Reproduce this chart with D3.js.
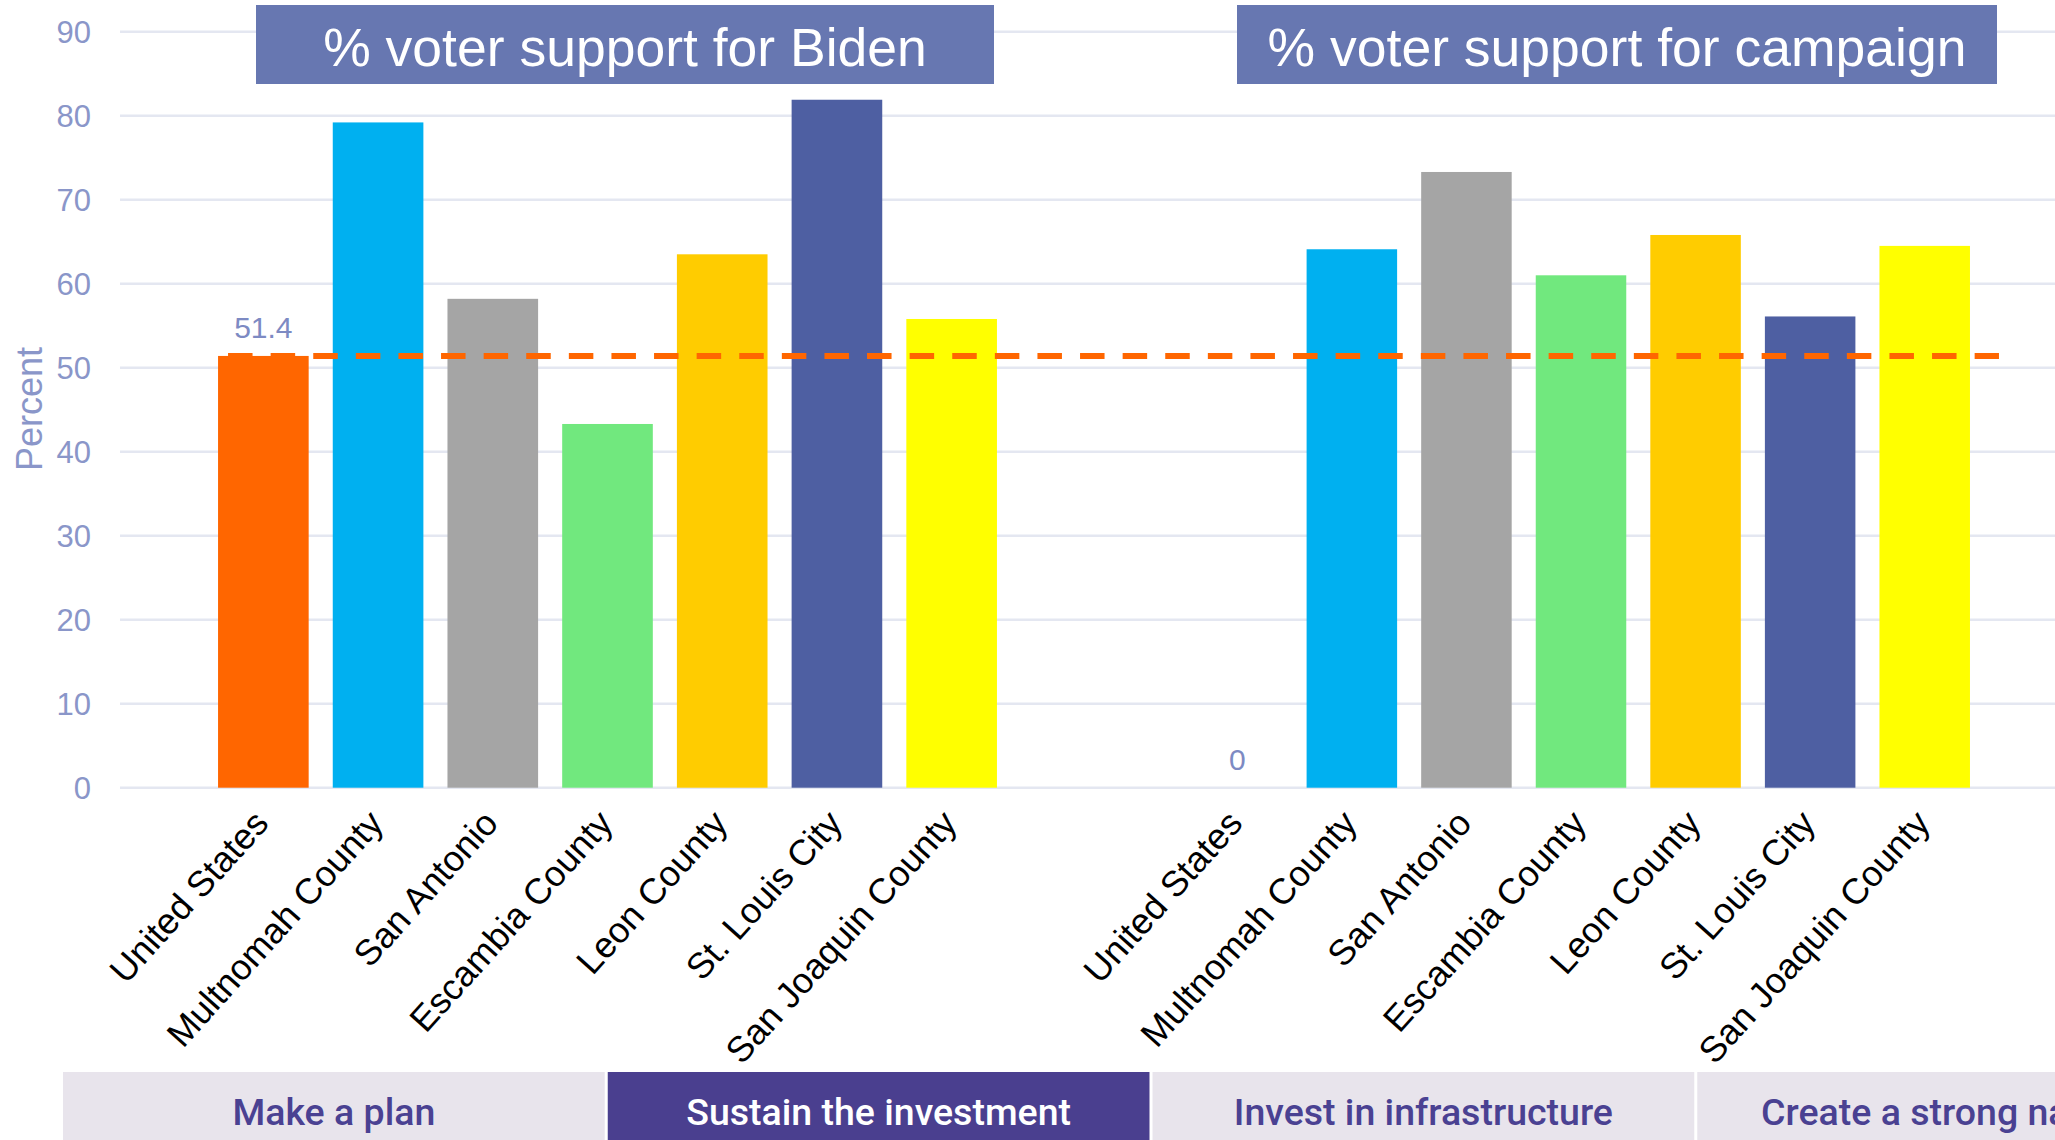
<!DOCTYPE html>
<html>
<head>
<meta charset="utf-8">
<script src="https://cdn.jsdelivr.net/npm/d3@7"></script>
<style>
  html, body { margin: 0; padding: 0; background: #ffffff; overflow: hidden; }
  svg { display: block; }
</style>
</head>
<body>
<svg id="chart" width="2055" height="1140"></svg>
<script>
// ---------------- DATA ----------------
const categories = ["United States", "Multnomah County", "San Antonio", "Escambia County", "Leon County", "St. Louis City", "San Joaquin County"];
const bidenValues = [51.4, 79.2, 58.2, 43.3, 63.5, 81.9, 55.8];
const campaignValues = [0, 64.1, 73.3, 61.0, 65.8, 56.1, 64.5];
const barColors = ["#FF6600", "#00B0F0", "#A5A5A5", "#71E87E", "#FFCC00", "#4E5FA2", "#FFFF00"];
const yTicks = [0, 10, 20, 30, 40, 50, 60, 70, 80, 90];
const referenceValue = 51.4;
const panelTitles = ["% voter support for Biden", "% voter support for campaign"];
const yAxisTitle = "Percent";
const stages = ["Make a plan", "Sustain the investment", "Invest in infrastructure", "Create a strong narrative"];
const activeStage = 1;

// ---------------- LAYOUT ----------------
const W = 2055, H = 1140;
const svg = d3.select("#chart");

const y = d3.scaleLinear().domain([0, 90]).range([787.7, 31.7]);

const xLeft = d3.scaleBand().domain(categories).range([206, 1009]).paddingInner(0.21).paddingOuter(0.105);
const xRight = d3.scaleBand().domain(categories).range([1180, 1982]).paddingInner(0.21).paddingOuter(0.105);

const tickColor = "#8A96C9";
const gridColor = "#E4E7F1";

// gridlines
svg.append("g").selectAll("line").data(yTicks).join("line")
  .attr("x1", 120).attr("x2", W)
  .attr("y1", d => y(d)).attr("y2", d => y(d))
  .attr("stroke", gridColor).attr("stroke-width", 2.5);

// y tick labels
svg.append("g").selectAll("text").data(yTicks).join("text")
  .attr("x", 91).attr("y", d => y(d))
  .attr("dy", "0.36em")
  .attr("text-anchor", "end")
  .attr("font-family", "Liberation Sans, Arial, sans-serif")
  .attr("font-size", 31)
  .attr("fill", tickColor)
  .text(d => d);

// y axis title
svg.append("text")
  .attr("transform", `translate(42,409) rotate(-90)`)
  .attr("text-anchor", "middle")
  .attr("font-family", "Liberation Sans, Arial, sans-serif")
  .attr("font-size", 36)
  .attr("fill", tickColor)
  .text(yAxisTitle);

// panels
const panels = [
  { x: xLeft, values: bidenValues, title: panelTitles[0], box: [256, 994] },
  { x: xRight, values: campaignValues, title: panelTitles[1], box: [1237, 1997] }
];

panels.forEach(p => {
  const data = categories.map((c, i) => ({ c, v: p.values[i], color: barColors[i] }));
  const g = svg.append("g");
  g.selectAll("rect").data(data).join("rect")
    .attr("x", d => p.x(d.c))
    .attr("width", p.x.bandwidth())
    .attr("y", d => y(d.v))
    .attr("height", d => y(0) - y(d.v))
    .attr("fill", d => d.color);

  // data label for first category
  g.append("text")
    .attr("x", p.x(categories[0]) + p.x.bandwidth() / 2)
    .attr("y", y(p.values[0]) - 18)
    .attr("text-anchor", "middle")
    .attr("font-family", "Liberation Sans, Arial, sans-serif")
    .attr("font-size", 30)
    .attr("fill", "#7D8AC3")
    .text(p.values[0]);

  // category labels
  g.selectAll("text.cat").data(categories).join("text")
    .attr("class", "cat")
    .attr("transform", d => `translate(${p.x(d) + p.x.bandwidth() / 2 + 7},${y(0) + 37}) rotate(-48)`)
    .attr("text-anchor", "end")
    .attr("font-family", "Liberation Sans, Arial, sans-serif")
    .attr("font-size", 36)
    .attr("fill", "#000000")
    .text(d => d);

  // title box
  g.append("rect")
    .attr("x", p.box[0]).attr("y", 5)
    .attr("width", p.box[1] - p.box[0]).attr("height", 79)
    .attr("fill", "#6777B1");
  g.append("text")
    .attr("x", (p.box[0] + p.box[1]) / 2).attr("y", 66)
    .attr("text-anchor", "middle")
    .attr("font-family", "Liberation Sans, Arial, sans-serif")
    .attr("font-size", 53.5)
    .attr("fill", "#ffffff")
    .text(p.title);
});

// reference dashed line
svg.append("line")
  .attr("x1", xLeft(categories[0]) + 10)
  .attr("x2", xRight(categories[categories.length - 1]) + xRight.bandwidth() + 29)
  .attr("y1", y(referenceValue)).attr("y2", y(referenceValue))
  .attr("stroke", "#FF6600").attr("stroke-width", 6)
  .attr("stroke-dasharray", "24.5 18.1");

// bottom stage banner
const stageX = d3.scaleBand().domain(stages).range([63, 63 + 544 * stages.length]).paddingInner(3 / 544).paddingOuter(0);
const banner = svg.append("g");
banner.selectAll("rect").data(stages).join("rect")
  .attr("x", d => stageX(d)).attr("y", 1072)
  .attr("width", stageX.bandwidth()).attr("height", H - 1072)
  .attr("fill", (d, i) => i === activeStage ? "#4A3F8F" : "#E8E4EC");
banner.selectAll("text").data(stages).join("text")
  .attr("x", d => stageX(d) + stageX.bandwidth() / 2)
  .attr("y", 1125)
  .attr("text-anchor", "middle")
  .attr("font-family", "Roboto, sans-serif")
  .attr("font-size", 37.5)
  .attr("font-weight", 500)
  .attr("fill", (d, i) => i === activeStage ? "#ffffff" : "#4A4192")
  .text(d => d);
</script>
</body>
</html>
